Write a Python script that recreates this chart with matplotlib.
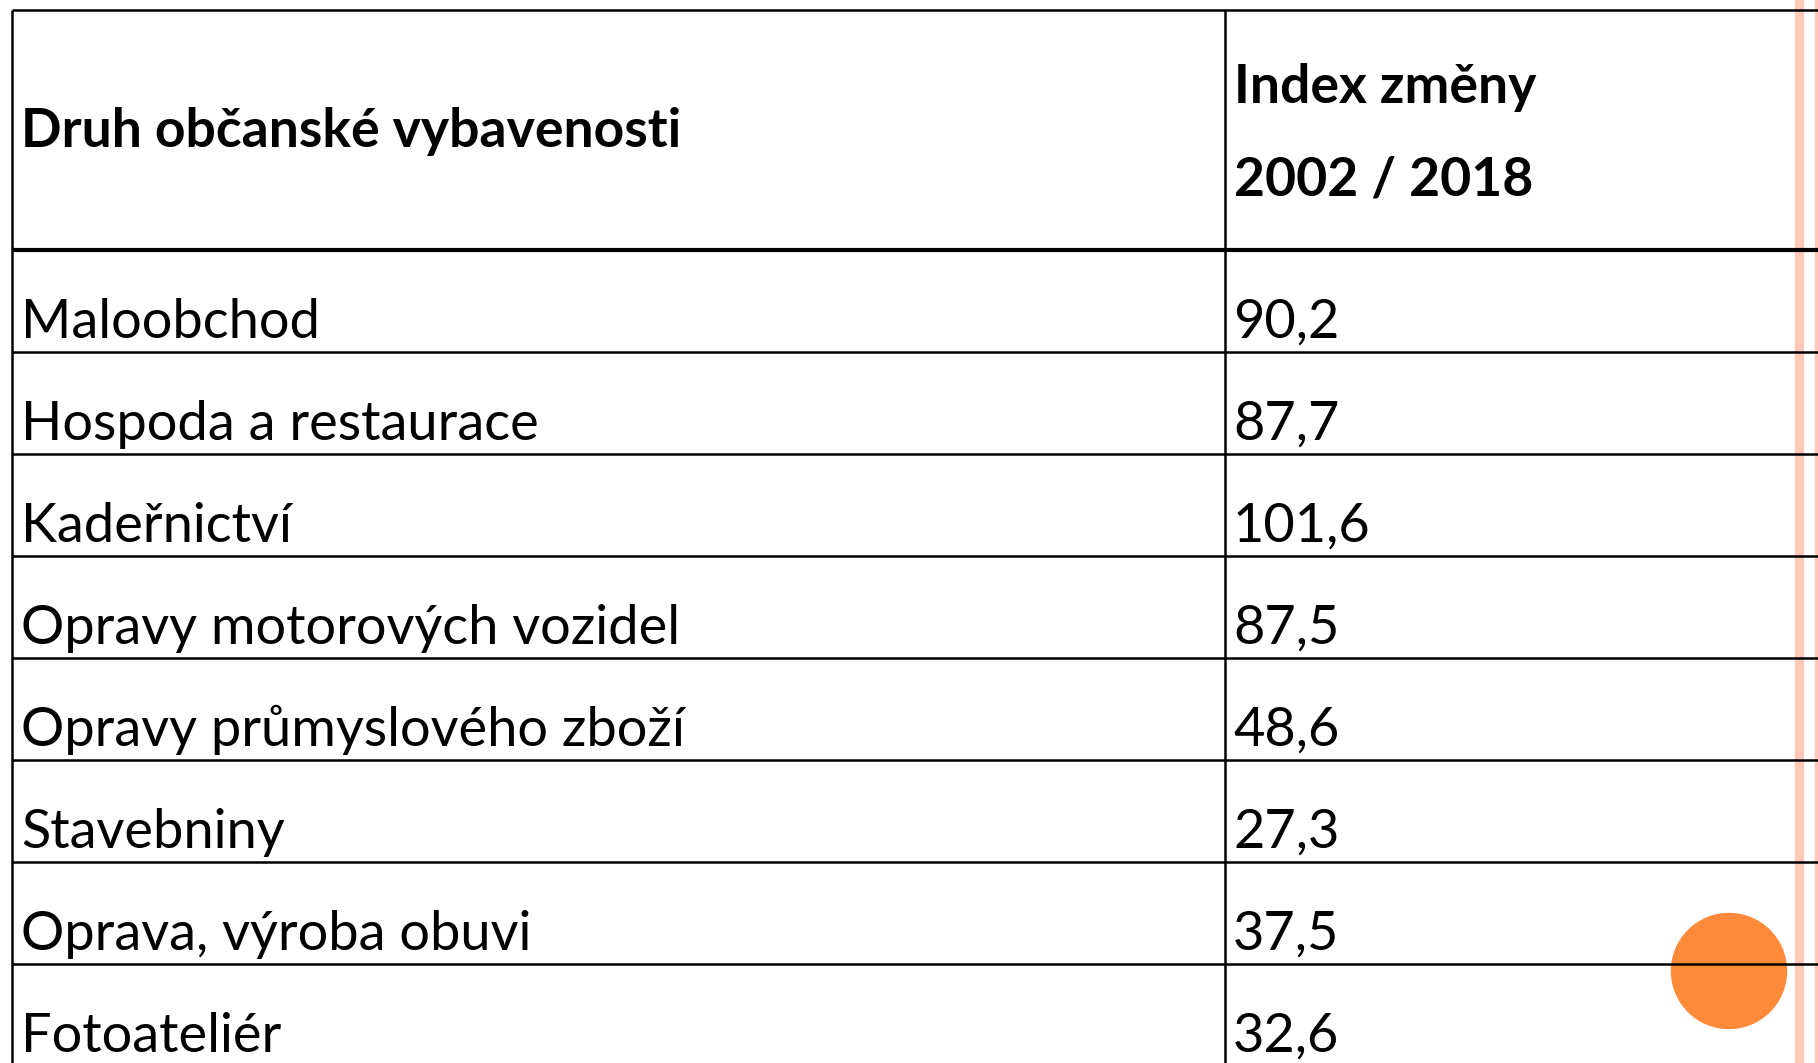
import matplotlib.pyplot as plt
from matplotlib.patches import Circle, Rectangle

# data
header_left = "Druh občanské vybavenosti"
header_right = ["Index změny", "2002 / 2018"]
druh = ["Maloobchod", "Hospoda a restaurace", "Kadeřnictví",
        "Opravy motorových vozidel", "Opravy průmyslového zboží",
        "Stavebniny", "Oprava, výroba obuvi", "Fotoateliér"]
index_zmeny = ["90,2", "87,7", "101,6", "87,5", "48,6", "27,3", "37,5", "32,6"]

W, H = 1818, 1063
fig = plt.figure(figsize=(W / 100, H / 100), dpi=100)
ax = fig.add_axes([0, 0, 1, 1])
ax.set_xlim(0, W)
ax.set_ylim(H, 0)
ax.axis('off')

font = 'Lato'
top = 10
head_bot = 250
row_h = 102
x_left = 11.5
x_mid = 1225

# pink stripes on the right side of the slide
ax.add_patch(Rectangle((1795, 0), 8, H, color='#ffc8b7', zorder=1))
ax.add_patch(Rectangle((1815, 0), 10, H, color='#ffc8b7', zorder=1))

# orange bullet circle
ax.add_patch(Circle((1729, 971), 57.5, color='#ff8a3a', zorder=2))

# table lines
ax.hlines(top, x_left, W, color='black', lw=1.8, zorder=3)
ax.hlines(head_bot, x_left, W, color='black', lw=3, zorder=3)
row_lines = [head_bot + row_h * (i + 1) for i in range(len(druh) - 1)]
ax.hlines(row_lines, x_left, W, color='black', lw=1.8, zorder=3)
ax.vlines([x_left, x_mid], top, H, color='black', lw=1.8, zorder=3)

# header
ax.text(21, 147, header_left, fontsize=38.5, fontweight='bold', family=font,
        va='baseline', ha='left', zorder=4)
ax.text(1234, 103, header_right[0], fontsize=38.5, fontweight='bold', family=font,
        va='baseline', ha='left', zorder=4)
ax.text(1234, 195, header_right[1], fontsize=38.5, fontweight='bold', family=font,
        va='baseline', ha='left', zorder=4)

# rows
for i, (name, val) in enumerate(zip(druh, index_zmeny)):
    base = head_bot + row_h * (i + 1) - 14
    ax.text(21, base, name, fontsize=39, family=font, va='baseline', ha='left', zorder=4)
    ax.text(1233, base, val, fontsize=39, family=font, va='baseline', ha='left', zorder=4)

fig.savefig('out.png', dpi=100, facecolor='white')
